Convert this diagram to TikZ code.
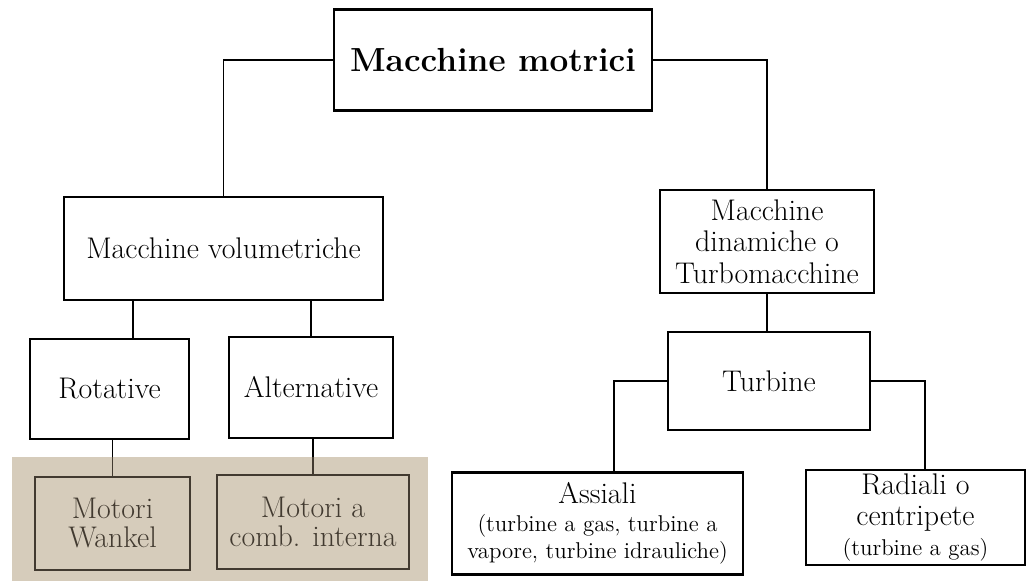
\documentclass[tikz,border=0pt]{standalone}
\usepackage{tikz}
\usetikzlibrary{positioning}
\definecolor{carta}{RGB}{214,204,187}
\definecolor{seppia}{RGB}{66,58,48}

\begin{document}
\begin{tikzpicture}[
  box/.style={draw,line width=1.5pt,align=center,inner sep=2pt,font=\fontsize{17}{18}\selectfont},
  oldbox/.style={box,draw=seppia,text=seppia,line width=1.1pt},
  link/.style={line width=1pt},
  oldlink/.style={line width=0.9pt,seppia}
 ]
 \useasboundingbox (0,0) rectangle (20.6,-11.62);
 \fill[carta] (0.24,-9.14) rectangle (8.56,-11.62);
 \node[box,minimum width=6.36cm,minimum height=2.02cm,font=\fontsize{19}{22}\selectfont\bfseries] (motrici) at (9.86,-1.2) {Macchine motrici};
 \node[box,minimum width=6.38cm,minimum height=2.06cm] (volum) at (4.47,-4.97) {Macchine volumetriche};
 \node[box,minimum width=4.28cm,minimum height=2.06cm] (dinam) at (15.34,-4.83) {Macchine\\dinamiche o\\Turbomacchine};
 \node[box,minimum width=3.18cm,minimum height=2.0cm] (rotat) at (2.19,-7.78) {Rotative};
 \node[box,minimum width=3.28cm,minimum height=2.02cm] (altern) at (6.22,-7.75) {Alternative};
 \node[box,minimum width=4.04cm,minimum height=1.96cm] (turbine) at (15.38,-7.62) {Turbine};
 \node[oldbox,minimum width=3.1cm,minimum height=1.86cm,font=\fontsize{17}{16.5}\selectfont] (wankel) at (2.25,-10.47) {Motori\\Wankel};
 \node[oldbox,minimum width=3.84cm,minimum height=1.88cm,font=\fontsize{17}{16.5}\selectfont] (combint) at (6.26,-10.44) {Motori a\\comb. interna};
 \node[box,minimum width=5.82cm,minimum height=2.04cm,font=\fontsize{13}{15.5}\selectfont] (assiali) at (11.95,-10.47) {{\fontsize{17}{17}\selectfont Assiali}\\(turbine a gas, turbine a\\vapore, turbine idrauliche)};
 \node[box,minimum width=4.38cm,minimum height=1.9cm,font=\fontsize{17}{17.5}\selectfont] (radiali) at (18.31,-10.35) {Radiali o\\centripete\\{\fontsize{13}{14}\selectfont (turbine a gas)}};

 \draw[link] (motrici.west) -| (volum.north);
 \draw[link] (motrici.east) -| (dinam.north);
 \draw[link] ([xshift=0.47cm]rotat.north) -- ([xshift=0.47cm]rotat.north |- volum.south);
 \draw[link] (altern.north) -- (altern.north |- volum.south);
 \draw[link] (dinam.south) -- (dinam.south |- turbine.north);
 \draw[link] (turbine.west) -| ([xshift=0.33cm]assiali.north);
 \draw[link] (turbine.east) -| ([xshift=0.19cm]radiali.north);
 \draw[link] (wankel.north |- rotat.south) -- (wankel.north |- 0,-9.14);
 \draw[oldlink] (wankel.north |- 0,-9.14) -- (wankel.north);
 \draw[link] (combint.north |- altern.south) -- (combint.north |- 0,-9.14);
 \draw[oldlink] (combint.north |- 0,-9.14) -- (combint.north);
\end{tikzpicture}
\end{document}
